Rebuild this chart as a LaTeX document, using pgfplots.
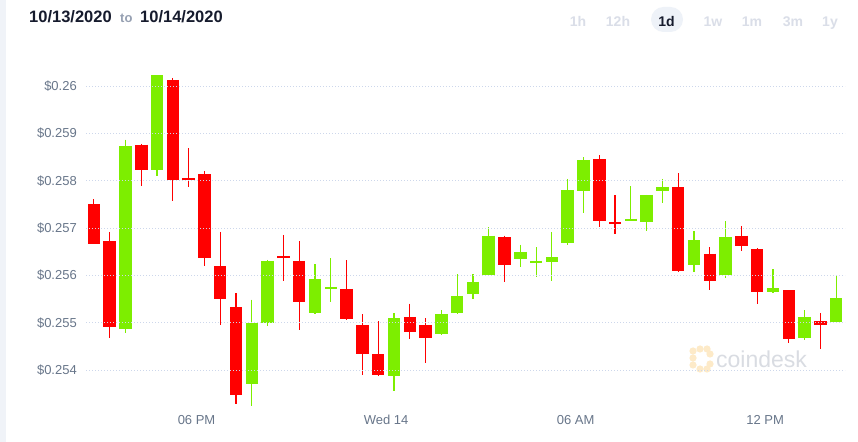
\documentclass[border=0pt]{standalone}
\usepackage{fontspec}
\setmainfont{Liberation Sans}
\usepackage{pgfplots}
\usepackage{pgfplotstable}
\pgfplotsset{compat=1.18}
\definecolor{cdred}{RGB}{255,0,0}
\definecolor{cdgreen}{RGB}{125,238,0}
\definecolor{gridc}{RGB}{205,215,235}
\definecolor{tickc}{RGB}{104,118,138}
\definecolor{hdr}{RGB}{22,27,45}
\definecolor{tocol}{RGB}{150,160,178}
\definecolor{btn}{RGB}{218,222,232}
\definecolor{pill}{RGB}{238,242,248}
\definecolor{strip}{RGB}{240,243,248}
\definecolor{wmtext}{RGB}{217,220,226}
\definecolor{wmlogo}{RGB}{253,234,200}

% time in hours from 10/13 00:00, open high low close
\pgfplotstableread{
t o h l c
14.75 0.25750 0.25761 0.25666 0.25666
15.25 0.25672 0.25692 0.25468 0.25492
16.25 0.25876 0.25878 0.25788 0.25822
17.25 0.26013 0.26017 0.25758 0.25802
17.75 0.25805 0.25869 0.25786 0.25801
18.25 0.25814 0.25821 0.25621 0.25636
18.75 0.25620 0.25692 0.25496 0.25551
19.25 0.25533 0.25563 0.25328 0.25347
20.75 0.25641 0.25686 0.25589 0.25636
21.25 0.25631 0.25672 0.25486 0.25544
22.75 0.25572 0.25632 0.25506 0.25509
23.25 0.25495 0.25518 0.25390 0.25435
23.75 0.25434 0.25504 0.25387 0.25390
24.75 0.25513 0.25541 0.25466 0.25480
25.25 0.25496 0.25510 0.25416 0.25469
27.75 0.25681 0.25684 0.25586 0.25623
30.75 0.25845 0.25854 0.25702 0.25715
31.25 0.25712 0.25769 0.25688 0.25708
33.25 0.25786 0.25816 0.25608 0.25610
34.25 0.25646 0.25660 0.25570 0.25589
35.25 0.25684 0.25705 0.25651 0.25663
35.75 0.25655 0.25658 0.25541 0.25565
36.75 0.25569 0.25569 0.25457 0.25466
37.75 0.25504 0.25521 0.25446 0.25496
}\redcandles

\pgfplotstableread{
t o h l c
15.75 0.25488 0.25887 0.25478 0.25873
16.75 0.25823 0.26030 0.25810 0.26030
19.75 0.25371 0.25549 0.25324 0.25499
20.25 0.25499 0.25633 0.25494 0.25631
21.75 0.25521 0.25624 0.25519 0.25592
22.25 0.25572 0.25636 0.25544 0.25576
24.25 0.25387 0.25520 0.25357 0.25510
25.75 0.25477 0.25527 0.25475 0.25519
26.25 0.25521 0.25603 0.25519 0.25557
26.75 0.25562 0.25603 0.25551 0.25587
27.25 0.25602 0.25702 0.25600 0.25684
28.25 0.25634 0.25665 0.25617 0.25650
28.75 0.25627 0.25660 0.25596 0.25631
29.25 0.25629 0.25691 0.25589 0.25639
29.75 0.25668 0.25804 0.25664 0.25780
30.25 0.25779 0.25850 0.25733 0.25844
31.75 0.25716 0.25788 0.25715 0.25720
32.25 0.25714 0.25770 0.25695 0.25770
32.75 0.25778 0.25804 0.25754 0.25787
33.75 0.25622 0.25693 0.25608 0.25674
34.75 0.25601 0.25715 0.25594 0.25681
36.25 0.25566 0.25613 0.25564 0.25573
37.25 0.25468 0.25527 0.25463 0.25513
38.25 0.25501 0.25598 0.25501 0.25552
}\greencandles

\begin{document}
\begin{tikzpicture}[x=1bp,y=1bp]
\path[use as bounding box, fill=white] (0,0) rectangle (858,442);
\fill[strip] (0,0) rectangle (6,442);
% header
\node[anchor=base west, inner sep=0pt, text=hdr, font=\fontsize{16.5bp}{18bp}\selectfont\bfseries] at (29,419.3) {10/13/2020};
\node[anchor=base west, inner sep=0pt, text=tocol, font=\fontsize{13bp}{15bp}\selectfont\bfseries] at (120,419.3) {to};
\node[anchor=base west, inner sep=0pt, text=hdr, font=\fontsize{16.5bp}{18bp}\selectfont\bfseries] at (140,419.3) {10/14/2020};
% range buttons
\fill[pill, rounded corners=12.5bp] (651,410) rectangle (683,435);
\foreach \lab/\xx in {1h/578,12h/618,1w/713,1m/752,3m/793,1y/830}{
  \node[anchor=base, inner sep=0pt, text=btn, font=\fontsize{14bp}{16bp}\selectfont\bfseries] at (\xx,415.3) {\lab};
}
\node[anchor=base, inner sep=0pt, text=hdr, font=\fontsize{14bp}{16bp}\selectfont\bfseries] at (666.5,415.3) {1d};
% watermark
\foreach \px/\py in {693/91,700/93,707/93,710/88,693/84,693/77,700/73,707/73,710/78}{
  \fill[wmlogo] (\px,\py) circle (3.6);
}
\node[anchor=base west, inner sep=0pt, text=wmtext, font=\fontsize{23bp}{25bp}\selectfont] at (716,74) {coindesk};
\begin{axis}[
  at={(86bp,34bp)}, anchor=south west,
  width=759bp, height=332bp, scale only axis,
  xmin=14.5, xmax=38.53,
  ymin=0.253205, ymax=0.260211,
  axis line style={draw=none},
  major tick length=0pt,
  axis on top,
  ymajorgrids,
  major grid style={gridc, line width=0.9bp, dash pattern=on 1bp off 2bp},
  xtick={18,24,30,36},
  xticklabels={06 PM, Wed 14, 06 AM, 12 PM},
  ytick={0.254,0.255,0.256,0.257,0.258,0.259,0.26},
  yticklabels={\$0.254,\$0.255,\$0.256,\$0.257,\$0.258,\$0.259,\$0.26},
  tick label style={font=\fontsize{13bp}{15bp}\selectfont, text=tickc},
  yticklabel style={anchor=east, inner sep=0pt, xshift=-9bp},
  xticklabel style={anchor=north, inner sep=0pt, yshift=-7bp},
]
% wicks
\addplot[draw=none, mark=none, error bars/.cd, y dir=minus, y explicit, error mark=none,
  error bar style={line width=1.2bp, draw=cdred}]
  table[x=t, y=h, y error minus expr=\thisrow{h}-\thisrow{l}] {\redcandles};
\addplot[draw=none, mark=none, error bars/.cd, y dir=minus, y explicit, error mark=none,
  error bar style={line width=1.2bp, draw=cdgreen}]
  table[x=t, y=h, y error minus expr=\thisrow{h}-\thisrow{l}] {\greencandles};
% bodies
\addplot[draw=none, mark=none, error bars/.cd, y dir=minus, y explicit, error mark=none,
  error bar style={line width=12.5bp, draw=cdred}]
  table[x=t, y=o, y error minus expr=\thisrow{o}-\thisrow{c}] {\redcandles};
\addplot[draw=none, mark=none, error bars/.cd, y dir=minus, y explicit, error mark=none,
  error bar style={line width=12.5bp, draw=cdgreen}]
  table[x=t, y=c, y error minus expr=\thisrow{c}-\thisrow{o}] {\greencandles};
\end{axis}
\end{tikzpicture}
\end{document}
